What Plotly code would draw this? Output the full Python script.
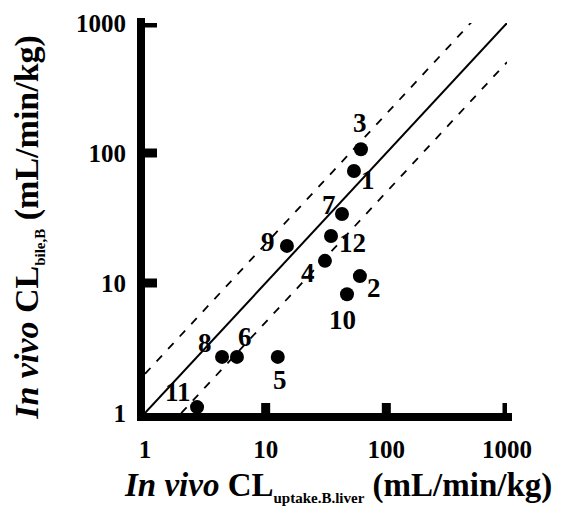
import math
import plotly.graph_objects as go

# ---- data ----
compounds = ["1", "2", "3", "4", "5", "6", "7", "8", "9", "10", "11", "12"]
cl_uptake_liver = [53.9, 60.4, 61.6, 31, 12.6, 5.78, 42.9, 4.35, 15.0, 47.2, 2.7, 34.8]
cl_bile = [72.7, 11.3, 107, 14.8, 2.7, 2.7, 33.9, 2.7, 19.3, 8.2, 1.11, 23]

tick_vals = [1, 10, 100, 1000]
tick_text = ["1", "10", "100", "1000"]

# reference lines: unity and 2-fold
unity_x = [0.85, 1100]
upper_x = [1, 520]
lower_x = [1.6, 1000]

# label offsets in pixels (dx, dy) relative to each point
label_offsets = {
    "1": (14, 9), "2": (14, 12), "3": (-1, -26), "4": (-17, 12),
    "5": (2, 23), "6": (8, -20), "7": (-13, -9), "8": (-17, -14),
    "9": (-19, -4), "10": (-4, 26), "11": (-19, -15), "12": (21, 7),
}

FONT = "Liberation Serif"
PLOT_W, PLOT_H = 362, 390

fig = go.Figure()

fig.add_trace(go.Scatter(x=unity_x, y=unity_x, mode="lines",
                         line=dict(color="black", width=2),
                         cliponaxis=False, hoverinfo="skip"))
fig.add_trace(go.Scatter(x=upper_x, y=[2 * v for v in upper_x], mode="lines",
                         line=dict(color="black", width=1.8, dash="8px,9px"),
                         cliponaxis=False, hoverinfo="skip"))
fig.add_trace(go.Scatter(x=lower_x, y=[v / 2 for v in lower_x], mode="lines",
                         line=dict(color="black", width=1.8, dash="8px,9px"),
                         cliponaxis=False, hoverinfo="skip"))

fig.add_trace(go.Scatter(x=cl_uptake_liver, y=cl_bile, mode="markers",
                         marker=dict(color="black", size=14),
                         cliponaxis=False))

for name, xv, yv in zip(compounds, cl_uptake_liver, cl_bile):
    dx, dy = label_offsets[name]
    fig.add_annotation(x=math.log10(xv), y=math.log10(yv), xref="x", yref="y",
                       text=name, showarrow=False, xshift=dx, yshift=-dy,
                       font=dict(family=FONT, size=27, color="black", weight="bold"))

axis_common = dict(
    type="log", range=[0, 3], tickmode="array", tickvals=tick_vals, ticktext=tick_text,
    showgrid=False, zeroline=False, showline=False, ticks="", automargin=False,
    tickfont=dict(family=FONT, size=25, color="black", weight="bold"),
)
fig.update_xaxes(**axis_common, ticklabelstandoff=19)
fig.update_yaxes(**axis_common, ticklabelstandoff=18)

# thick axis lines and tick marks
shapes = [
    dict(type="line", xref="paper", yref="paper", x0=-4 / PLOT_W, x1=-4 / PLOT_W,
         y0=-8 / PLOT_H, y1=1 + 5 / PLOT_H, line=dict(color="black", width=8)),
    dict(type="line", xref="paper", yref="paper", x0=-8 / PLOT_W, x1=1 + 5 / PLOT_W,
         y0=-4 / PLOT_H, y1=-4 / PLOT_H, line=dict(color="black", width=8)),
]
for v in tick_vals[1:]:
    shapes.append(dict(type="line", xref="paper", yref="y", x0=0, x1=12 / PLOT_W,
                       y0=v, y1=v, line=dict(color="black", width=9)))
    shapes.append(dict(type="line", xref="x", yref="paper", x0=v, x1=v,
                       y0=0, y1=10 / PLOT_H, line=dict(color="black", width=9)))

fig.add_annotation(
    xref="paper", yref="paper", x=0.532, y=-0.188, xanchor="center", yanchor="middle",
    text="<i>In vivo</i> CL<sub><span style='font-size:15px'>uptake.B.liver</span></sub> (mL/min/kg)",
    showarrow=False, font=dict(family=FONT, size=33, color="black", weight="bold"))
fig.add_annotation(
    xref="paper", yref="paper", x=-0.323, y=0.475, xanchor="center", yanchor="middle",
    textangle=-90,
    text="<i>In vivo</i> CL<sub><span style='font-size:15px'>bile,B</span></sub> (mL/min/kg)",
    showarrow=False, font=dict(family=FONT, size=34, color="black", weight="bold"))

fig.update_layout(
    width=553, height=504, showlegend=False,
    margin=dict(l=137, r=54, t=15, b=99),
    plot_bgcolor="white", paper_bgcolor="white",
    shapes=shapes,
)

fig.write_html("out.html")
